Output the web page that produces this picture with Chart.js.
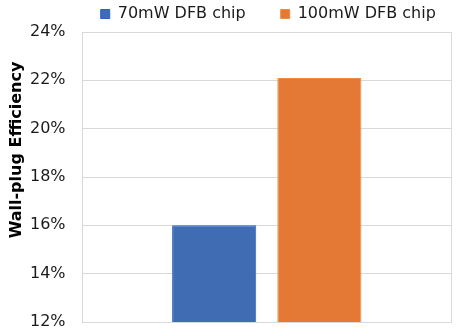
<!DOCTYPE html>
<html>
<head>
<meta charset="utf-8">
<script src="https://cdn.jsdelivr.net/npm/chart.js@4/dist/chart.umd.min.js"></script>
<style>
  html, body { margin: 0; padding: 0; background: #fff; }
  #wrap { width: 456px; height: 336px; }
</style>
</head>
<body>
<div id="wrap"><canvas id="wpeChart"></canvas></div>
<script>
// data
const categories = [''];
const seriesNames = ['70mW DFB chip', '100mW DFB chip'];
const chip70 = [16.0];
const chip100 = [22.1];
const yTicks = [12, 14, 16, 18, 20, 22, 24];
const yTitle = 'Wall-plug Efficiency';

const FONT = '"DejaVu Sans", Verdana, sans-serif';
const GRID = '#d9d9d9';
const LEGEND_PAD = 35;

// centre the legend over the plot area and pull it up to the top
const legendPlace = {
    id: 'legendPlace',
    beforeDraw(chart) {
        const lg = chart.legend;
        const area = chart.chartArea;
        if (!lg) return;
        // widen both sides the same amount so the second item does not wrap
        lg.left = area.left - 40;
        lg.right = area.right + 43;
        lg.top = 6 - LEGEND_PAD;
    }
};

// y axis title, sits a bit above the middle like the original
const yTitlePlugin = {
    id: 'yTitlePlugin',
    afterDraw(chart) {
        const ctx = chart.ctx;
        const area = chart.chartArea;
        ctx.save();
        ctx.translate(20.5, (area.top + area.bottom) / 2 - 27);
        ctx.rotate(-Math.PI / 2);
        ctx.font = 'bold 16px ' + FONT;
        ctx.fillStyle = '#000';
        ctx.textAlign = 'center';
        ctx.textBaseline = 'alphabetic';
        ctx.fillText(yTitle, 0, 0);
        ctx.restore();
    }
};

const ctx = document.getElementById('wpeChart').getContext('2d');
new Chart(ctx, {
    type: 'bar',
    data: {
        labels: categories,
        datasets: [{
            label: seriesNames[0],
            data: chip70,
            backgroundColor: '#3f6cb3',
            borderColor: '#2563be',
            borderWidth: 1
        }, {
            label: seriesNames[1],
            data: chip100,
            backgroundColor: '#e37934',
            borderColor: '#f08a40',
            borderWidth: 1
        }]
    },
    options: {
        responsive: true,
        maintainAspectRatio: false,
        animation: false,
        layout: { padding: { left: 13, right: 5, top: 0, bottom: 14 } },
        datasets: {
            bar: { categoryPercentage: 0.571, barPercentage: 0.8 }
        },
        plugins: {
            legend: {
                position: 'top',
                maxHeight: 32,
                labels: {
                    boxWidth: 9,
                    boxHeight: 9,
                    padding: LEGEND_PAD,
                    color: '#1a1a1a',
                    font: { family: FONT, size: 16 }
                }
            },
            tooltip: { enabled: false }
        },
        scales: {
            x: {
                ticks: { display: false },
                grid: { display: true, offset: true, color: GRID, drawTicks: false },
                border: { display: true, color: GRID }
            },
            y: {
                min: yTicks[0],
                max: yTicks[yTicks.length - 1],
                afterBuildTicks(axis) {
                    axis.ticks = yTicks.map(v => ({ value: v }));
                },
                // tick padding would otherwise be added above and below the plot
                afterFit(axis) {
                    axis.paddingTop = 0;
                    axis.paddingBottom = 0;
                },
                ticks: {
                    padding: 17,
                    color: '#1a1a1a',
                    font: { family: FONT, size: 16 },
                    callback: v => v + '%'
                },
                grid: { color: GRID, drawTicks: false },
                border: { display: true, color: GRID }
            }
        }
    },
    plugins: [legendPlace, yTitlePlugin]
});
</script>
</body>
</html>
